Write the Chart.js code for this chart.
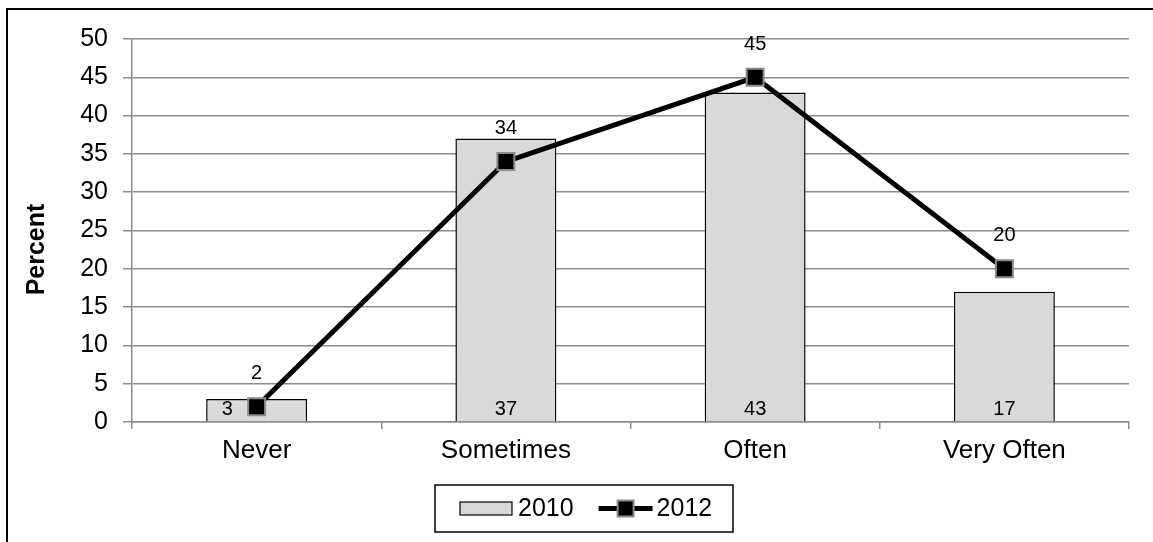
<!DOCTYPE html>
<html lang="en">
<head>
<meta charset="UTF-8">
<title>Percent 2010 / 2012</title>
<style>
    html, body { margin: 0; padding: 0; background: #fff; }
</style>
</head>
<body>
<canvas id="chart" width="1153" height="542"></canvas>

<script src="https://cdn.jsdelivr.net/npm/chart.js"></script>
<script>
    const categories = ['Never', 'Sometimes', 'Often', 'Very Often'];
    const values2010 = [3, 37, 43, 17];
    const values2012 = [2, 34, 45, 20];
    const seriesNames = ['2010', '2012'];
    const yTicks = [0, 5, 10, 15, 20, 25, 30, 35, 40, 45, 50];
    const yTitle = 'Percent';

    const FONT = '"Liberation Sans", Arial, sans-serif';
    const GRID = '#8c8c8c';

    Chart.defaults.font.family = FONT;
    Chart.defaults.color = '#000';

    // data labels, axis title, outer frame and the boxed legend
    const extras = {
        id: 'extras',
        afterDatasetsDraw(chart) {
            const ctx = chart.ctx;
            const bars = chart.getDatasetMeta(0).data;
            const points = chart.getDatasetMeta(1).data;
            ctx.save();
            ctx.fillStyle = '#000';
            ctx.textAlign = 'center';
            ctx.textBaseline = 'middle';
            ctx.font = '20px ' + FONT;
            bars.forEach((bar, i) => {
                let x = bar.x;
                const y = bar.base - 12;
                // marker sits on a short bar -> move label aside
                if (Math.abs(points[i].y - y) < 16) x -= bar.width * 0.29;
                ctx.fillText(values2010[i], x, y);
            });
            points.forEach((pt, i) => ctx.fillText(values2012[i], pt.x, pt.y - 33));
            ctx.restore();
        },
        afterDraw(chart) {
            const ctx = chart.ctx;
            const area = chart.chartArea;
            ctx.save();

            // y title, sits a little below the middle of the plot like the original
            ctx.save();
            ctx.translate(37, (area.top + area.bottom) / 2 + 19);
            ctx.rotate(-Math.PI / 2);
            ctx.font = 'bold 25px ' + FONT;
            ctx.fillStyle = '#000';
            ctx.textAlign = 'center';
            ctx.textBaseline = 'middle';
            ctx.fillText(yTitle, 0, 0);
            ctx.restore();

            // outer frame
            ctx.strokeStyle = '#000';
            ctx.lineWidth = 2;
            ctx.strokeRect(7, 9, chart.width + 20, chart.height + 20);

            // legend
            ctx.font = '25px ' + FONT;
            const boxW = 298, boxH = 47;
            const bx = Math.round(chart.width / 2 + 7 - boxW / 2);
            const by = chart.height - 57;
            const cy = by + boxH / 2;
            ctx.lineWidth = 1.5;
            ctx.strokeRect(bx, by, boxW, boxH);

            let x = bx + 25;
            ctx.fillStyle = '#d9d9d9';
            ctx.fillRect(x, cy - 6.5, 52, 13);
            ctx.strokeStyle = '#000';
            ctx.lineWidth = 1.2;
            ctx.strokeRect(x, cy - 6.5, 52, 13);
            x += 58;
            ctx.fillStyle = '#000';
            ctx.textAlign = 'left';
            ctx.textBaseline = 'middle';
            ctx.fillText(seriesNames[0], x, cy + 1);
            x += ctx.measureText(seriesNames[0]).width + 25;

            ctx.lineWidth = 5;
            ctx.beginPath();
            ctx.moveTo(x, cy);
            ctx.lineTo(x + 54, cy);
            ctx.stroke();
            ctx.fillStyle = '#000';
            ctx.fillRect(x + 19, cy - 8, 16, 16);
            ctx.strokeStyle = GRID;
            ctx.lineWidth = 2;
            ctx.strokeRect(x + 19, cy - 8, 16, 16);
            x += 58;
            ctx.fillStyle = '#000';
            ctx.fillText(seriesNames[1], x, cy + 1);

            ctx.restore();
        }
    };

    new Chart(document.getElementById('chart'), {
        data: {
            labels: categories,
            datasets: [{
                type: 'bar',
                label: seriesNames[0],
                data: values2010,
                backgroundColor: '#d9d9d9',
                borderColor: '#000',
                borderWidth: 1.5,
                barPercentage: 0.405,
                categoryPercentage: 1,
                order: 2
            }, {
                type: 'line',
                label: seriesNames[1],
                data: values2012,
                borderColor: '#000',
                borderWidth: 5,
                tension: 0,
                fill: false,
                pointStyle: 'rect',
                pointRadius: 12,
                pointBackgroundColor: '#000',
                pointBorderColor: GRID,
                pointBorderWidth: 2,
                order: 1
            }]
        },
        options: {
            responsive: false,
            animation: false,
            events: [],
            layout: { padding: { left: 0, top: 39, right: 24, bottom: 0 } },
            plugins: {
                legend: { display: false },
                tooltip: { enabled: false }
            },
            scales: {
                x: {
                    grid: { drawOnChartArea: false, color: GRID, lineWidth: 1.5, tickLength: 7 },
                    border: { color: GRID, width: 1.5 },
                    ticks: { font: { size: 26 }, padding: 6, color: '#000' },
                    afterFit(scale) { scale.height = 120; }
                },
                y: {
                    min: 0,
                    max: 50,
                    grid: { color: GRID, lineWidth: 1.5, tickLength: 9 },
                    border: { color: GRID, width: 1.5 },
                    ticks: { font: { size: 25 }, padding: 15, color: '#000' },
                    afterBuildTicks(scale) { scale.ticks = yTicks.map(v => ({ value: v })); },
                    afterFit(scale) { scale.width = 132; }
                }
            }
        },
        plugins: [extras]
    });
</script>
</body>
</html>
